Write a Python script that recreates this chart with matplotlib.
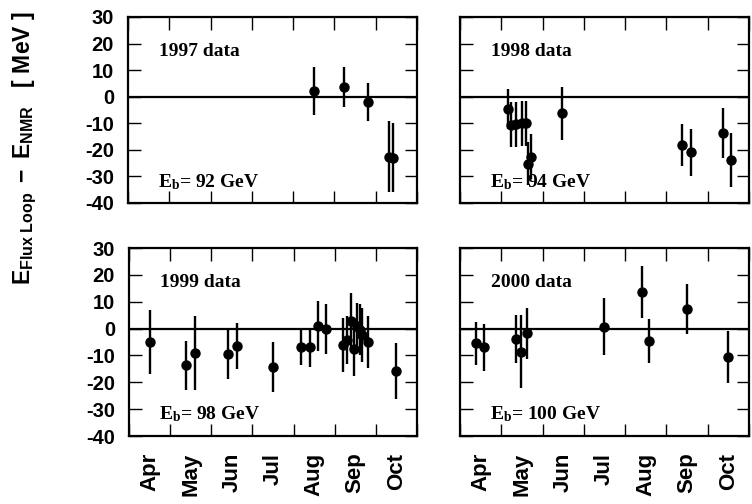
import matplotlib
matplotlib.use("Agg")
import matplotlib.pyplot as plt
import numpy as np

plt.rcParams['mathtext.fontset'] = 'custom'
plt.rcParams['mathtext.rm'] = 'Liberation Serif:bold'
plt.rcParams['mathtext.it'] = 'Liberation Serif:bold'
plt.rcParams['mathtext.bf'] = 'Liberation Serif:bold'
plt.rcParams['mathtext.sf'] = 'Liberation Sans:bold'

# ---------------- data ----------------
months = ["Apr", "May", "Jun", "Jul", "Aug", "Sep", "Oct"]
years = ["1997", "1998", "1999", "2000"]
beam_energies = [92, 94, 98, 100]

# time in months since 1 April; E_FluxLoop - E_NMR [MeV]; error [MeV]
t_1997 = [4.51, 5.24, 5.81, 6.32, 6.41]
dE_1997 = [2.0, 3.5, -2.0, -22.5, -23.0]
err_1997 = [9.0, 7.5, 7.0, 13.5, 13.0]

t_1998 = [1.16, 1.24, 1.36, 1.49, 1.61, 1.65, 1.73, 2.46, 5.38, 5.59, 6.36, 6.57]
dE_1998 = [-4.7, -10.6, -10.4, -10.0, -10.0, -25.2, -22.6, -6.3, -18.2, -20.9, -13.6, -23.9]
err_1998 = [7.5, 8.5, 8.5, 8.5, 8.5, 8.0, 8.5, 10.0, 8.0, 8.8, 9.4, 10.2]

t_1999 = [0.50, 1.39, 1.61, 2.40, 2.63, 3.49, 4.17, 4.40, 4.59, 4.78,
          5.21, 5.29, 5.39, 5.47, 5.54, 5.61, 5.67, 5.80, 6.49]
dE_1999 = [-5.0, -13.7, -9.0, -9.3, -6.5, -14.3, -6.8, -7.0, 0.9, 0.0,
           -6.1, -4.3, 2.9, -7.5, 1.0, -0.5, -2.5, -5.0, -15.8]
err_1999 = [12.0, 9.0, 13.7, 9.3, 8.7, 9.3, 6.6, 7.3, 9.2, 9.3,
            10.0, 9.0, 10.5, 10.0, 8.5, 9.5, 10.0, 9.5, 10.6]

t_2000 = [0.38, 0.59, 1.35, 1.48, 1.63, 3.49, 4.40, 4.58, 5.50, 6.50]
dE_2000 = [-5.5, -7.0, -4.0, -8.6, -1.7, 0.7, 13.6, -4.6, 7.3, -10.5]
err_2000 = [8.0, 8.7, 9.0, 13.6, 9.5, 10.7, 9.8, 8.1, 9.2, 9.6]

t_all = [t_1997, t_1998, t_1999, t_2000]
dE_all = [dE_1997, dE_1998, dE_1999, dE_2000]
err_all = [err_1997, err_1998, err_1999, err_2000]

y_ticks = [30, 20, 10, 0, -10, -20, -30, -40]

# ---------------- figure ----------------
fig = plt.figure(figsize=(7.52, 5.04), dpi=100)
W, H = 752.0, 504.0
boxes = [
    (128, 17, 417, 203),
    (460, 17, 749, 203),
    (129, 248, 417, 436),
    (460, 248, 749, 436),
]

tick_font = dict(family='Liberation Sans', weight='bold')

for i, (x0, y0, x1, y1) in enumerate(boxes):
    ax = fig.add_axes([x0 / W, 1 - y1 / H, (x1 - x0) / W, (y1 - y0) / H])
    ax.errorbar(t_all[i], dE_all[i], yerr=err_all[i], fmt='o', color='black',
                ms=6.5, elinewidth=1.7, capsize=0, zorder=3)
    ax.axhline(0, color='black', lw=1.6, zorder=2)
    ax.set_xlim(0, len(months))
    ax.set_ylim(-40, 30)
    ax.set_xticks(np.arange(0, len(months) + 1))
    ax.set_xticklabels([])
    ax.set_yticks(y_ticks)
    ax.tick_params(which='major', direction='in', top=True, right=True,
                   length=9, width=1.0)
    if i in (0, 2):
        ax.set_yticklabels([str(v) for v in y_ticks], fontsize=14.5, **tick_font)
        ax.tick_params(axis='y', pad=10)
    else:
        ax.set_yticklabels([])
    if i in (2, 3):
        ax.set_xticks(np.arange(len(months)) + 0.5, minor=True)
        ax.set_xticklabels(months, minor=True, rotation=90, fontsize=16,
                           **tick_font)
        ax.tick_params(axis='x', which='minor', length=0, pad=12)
    for s in ax.spines.values():
        s.set_linewidth(1.6)
    ax.text(0.75, 17, years[i] + " data", fontsize=14, family='Liberation Serif',
            weight='bold', va='center', ha='left')
    ax.text(0.72, -32, r"$\mathrm{E_b}$= %d GeV" % beam_energies[i], fontsize=14,
            family='Liberation Serif', weight='bold', va='center', ha='left')

fig.text(25 / W, 1 - 148 / H,
         r"$\mathsf{E_{Flux\ Loop}\ -\ E_{NMR}}$" + "   [ MeV ]",
         rotation=90, fontsize=16.5, family='Liberation Sans', weight='bold',
         va='center', ha='center')

fig.savefig("out.png", dpi=100)
